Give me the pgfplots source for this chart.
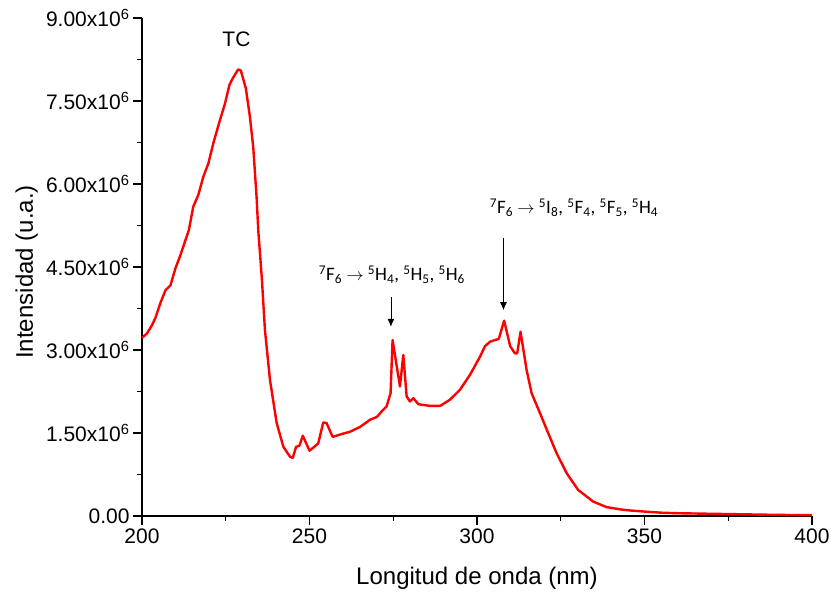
\documentclass[border=0pt]{standalone}
\usepackage{fontspec}
\setmainfont{Liberation Sans}
\newfontfamily\calfont{Carlito}
\usepackage{pgfplots}
\pgfplotsset{compat=1.18}
\usetikzlibrary{arrows.meta}
\begin{document}
\begin{tikzpicture}
\useasboundingbox (-142pt,-76pt) rectangle (689pt,516pt);
\begin{axis}[
  at={(0,0)}, anchor=south west,
  scale only axis, width=670pt, height=498pt,
  xmin=200, xmax=400, ymin=0, ymax=9,
  axis lines*=left,
  axis line style={line width=1.2pt, black},
  tick align=outside,
  major tick length=9pt, minor tick length=5pt,
  every tick/.style={line width=1.2pt, black},
  xtick={200,250,300,350,400},
  xticklabels={200,250,300,350,400},
  minor xtick={225,275,325,375},
  ytick={0,1.5,3,4.5,6,7.5,9},
  yticklabels={0.00, 1.50x10\textsuperscript{6}, 3.00x10\textsuperscript{6}, 4.50x10\textsuperscript{6}, 6.00x10\textsuperscript{6}, 7.50x10\textsuperscript{6}, 9.00x10\textsuperscript{6}},
  minor ytick={0.75,2.25,3.75,5.25,6.75,8.25},
  ticklabel style={font=\fontsize{21}{25}\selectfont},
  xlabel={Longitud de onda (nm)},
  ylabel={Intensidad (u.a.)},
  label style={font=\fontsize{24}{28}\selectfont},
  xlabel style={at={(axis description cs:0.5,-0.1245)}, anchor=center},
  ylabel style={at={(axis description cs:-0.172,0.49)}, anchor=center},
  clip=false,
]
\addplot[red, line width=2.4pt, line join=round] coordinates {
(200,3.22) (201.5,3.30) (203,3.45) (204,3.58) (205.5,3.85) (207,4.08) (208.5,4.17)
(210,4.48) (211.5,4.72) (213,4.99) (214,5.17) (215.3,5.59) (216.8,5.80) (218.3,6.13)
(219.8,6.37) (221.3,6.74) (223.3,7.16) (224.8,7.46) (226.1,7.79) (227,7.90)
(228.7,8.07) (229.5,8.05) (231.0,7.73) (232.2,7.22) (233.2,6.67) (234.2,5.77)
(234.7,5.17) (235.8,4.27) (236.7,3.36) (238.2,2.46) (240.2,1.68) (242.2,1.25)
(244.2,1.07) (245.0,1.05) (246.0,1.25) (247.0,1.27) (248.0,1.45) (250.0,1.18)
(252.6,1.31) (254.1,1.69) (255.1,1.68) (256.9,1.43) (260.1,1.49) (262,1.52)
(265.1,1.61) (268.1,1.74) (270.1,1.79) (272.0,1.92) (273.0,1.98) (274.2,2.22)
(274.8,3.18) (277.0,2.34) (278.0,2.91) (279.0,2.16) (280.0,2.07) (281.0,2.13)
(282.5,2.02) (286.0,1.99) (289.0,1.99) (291.9,2.10) (294.9,2.28) (297.9,2.55)
(300.9,2.88) (302.4,3.07) (303.9,3.15) (305.9,3.19) (306.5,3.20) (308.1,3.53)
(309.9,3.07) (311.3,2.94) (312.0,2.94) (313.0,3.33) (314.8,2.64) (316.3,2.22)
(318.8,1.86) (321.3,1.49) (323.8,1.13) (326.8,0.77) (330.2,0.47) (334.7,0.26)
(338.7,0.16) (342.7,0.12) (345.7,0.10) (350,0.08) (355,0.06) (360,0.05)
(370,0.04) (380,0.03) (390,0.02) (400,0.015)
};
\node[font=\fontsize{21}{25}\selectfont] at (axis cs:228.2,8.62) {TC};
\node[font=\calfont\fontsize{19}{22}\selectfont] at (axis cs:274.6,4.36)
  {\textsuperscript{7}F\textsubscript{6} $\rightarrow$ \textsuperscript{5}H\textsubscript{4}, \textsuperscript{5}H\textsubscript{5}, \textsuperscript{5}H\textsubscript{6}};
\node[font=\calfont\fontsize{19}{22}\selectfont] at (axis cs:328.96,5.57)
  {\textsuperscript{7}F\textsubscript{6} $\rightarrow$ \textsuperscript{5}I\textsubscript{8}, \textsuperscript{5}F\textsubscript{4}, \textsuperscript{5}F\textsubscript{5}, \textsuperscript{5}H\textsubscript{4}};
\draw[-{Latex[length=8pt,width=7pt]}, line width=0.8pt] (axis cs:274.3,3.96) -- (axis cs:274.3,3.42);
\draw[-{Latex[length=8pt,width=7pt]}, line width=0.8pt] (axis cs:307.9,5.02) -- (axis cs:307.9,3.72);
\end{axis}
\end{tikzpicture}
\end{document}
